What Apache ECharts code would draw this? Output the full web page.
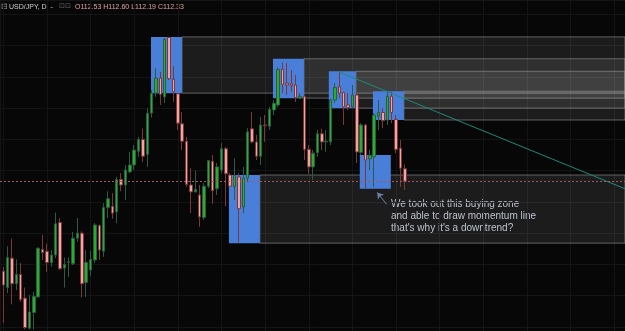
<!DOCTYPE html>
<html>
<head>
<meta charset="utf-8">
<style>
  html, body { margin: 0; padding: 0; background: #070707; }
  #chart { width: 625px; height: 331px; }
</style>
<script src="https://cdn.jsdelivr.net/npm/echarts@6/dist/echarts.min.js"></script>
</head>
<body>
<div id="chart"></div>
<script>
// daily USD/JPY candles
const opens = [110.89,110.63,111.10,110.69,110.84,110.46,109.98,110.23,110.48,111.24,
  111.21,111.03,111.15,111.67,110.94,111.03,111.01,111.42,111.50,110.71,
  110.91,111.07,111.62,111.21,111.91,111.93,111.84,112.36,112.27,112.48,
  112.59,112.81,113.00,112.76,113.42,113.74,113.98,113.68,114.63,113.96,
  113.73,113.25,112.97,112.27,112.16,112.11,111.75,112.25,112.65,112.21,
  112.51,112.85,112.43,112.24,112.40,111.92,112.38,113.17,112.96,112.73,
  113.23,113.21,113.47,113.55,114.12,113.90,113.89,113.87,113.66,113.69,
  112.84,112.56,112.79,113.09,112.96,112.96,113.63,113.84,113.75,113.55,
  113.52,113.71,112.79,113.23,112.69,112.72,113.37,113.43,113.31,113.69,
  113.32,112.86,112.53];
const highs = [110.96,111.29,111.41,111.08,111.02,110.63,110.51,110.56,111.27,111.47,
  111.33,111.23,111.83,111.74,111.11,111.11,111.52,111.74,111.53,111.23,
  111.22,111.66,111.64,111.98,112.17,112.14,112.40,112.46,112.59,112.80,
  112.91,113.04,113.17,113.50,113.79,114.14,114.08,114.62,114.64,114.17,
  113.74,113.44,113.04,112.54,112.50,112.27,112.30,112.67,112.75,112.62,
  112.94,112.88,112.46,112.70,112.46,112.56,113.18,113.44,113.07,113.36,
  113.39,113.52,113.63,114.15,114.23,114.22,114.11,114.03,113.74,113.70,
  112.91,112.83,113.15,113.17,113.15,113.65,113.90,114.08,113.76,113.74,
  113.87,113.76,113.26,113.25,112.83,113.42,113.63,113.50,113.76,113.76,
  113.39,112.99,112.60];
const lows = [110.06,110.54,110.36,110.59,110.40,109.96,109.96,109.96,110.47,111.07,
  110.88,110.96,111.10,110.91,110.63,110.80,110.99,111.36,110.47,110.48,
  110.81,111.02,111.07,111.12,111.74,111.73,111.66,112.17,112.03,112.46,
  112.51,112.72,112.64,112.56,113.35,113.68,113.55,113.58,113.95,113.60,
  113.15,112.83,112.24,111.82,112.15,111.60,111.71,112.22,111.97,112.11,
  112.46,111.93,112.24,112.03,111.35,111.82,112.32,112.94,112.67,112.59,
  112.96,113.15,113.39,113.52,113.74,113.71,113.76,113.60,113.65,112.67,
  112.45,112.35,112.72,112.83,112.80,112.91,113.58,113.66,113.23,113.47,
  113.50,112.62,112.75,112.22,112.51,112.24,113.15,113.18,113.23,113.26,
  112.78,112.24,112.19];
const closes = [110.67,111.11,110.69,110.84,110.44,109.99,110.24,110.49,111.26,111.19,
  111.03,111.15,111.65,110.93,111.00,111.04,111.42,111.50,110.69,111.03,
  111.08,111.63,111.23,111.91,112.05,111.82,112.36,112.27,112.51,112.59,
  112.83,113.00,112.73,113.42,113.74,113.98,113.72,114.60,113.97,113.76,
  113.26,112.97,112.28,112.16,112.20,111.76,112.25,112.66,112.18,112.56,
  112.85,112.45,112.25,112.42,111.89,112.38,113.12,112.96,112.73,113.23,
  113.22,113.48,113.58,114.12,113.88,113.87,113.86,113.67,113.69,112.84,
  112.56,112.78,113.09,112.96,112.97,113.63,113.83,113.74,113.52,113.51,
  113.71,112.80,113.23,112.67,112.74,113.39,113.43,113.30,113.69,113.43,
  112.84,112.54,112.33];

// drawn zones: [start bar, end bar, top price, bottom price]
const zoneBoxes = [
  [33.85, 40.95, 114.64, 113.74],
  [61.8, 68.9, 114.29, 113.66],
  [74.6, 80.8, 114.09, 113.50],
  [84.7, 91.8, 113.77, 113.31],
  [51.7, 58.8, 112.43, 111.34]
];
const extraBox = [81.7, 88.8, 112.75, 112.21];
const trendLine = [[76.9, 114.08], [142.47, 112.21]];
const arrowLine = [[87.86, 111.96], [85.7, 112.15]];
const lastPrice = 112.33;
const lastBar = 'O112.53 H112.60 L112.19 C112.33';

const xMin = -0.752, xMax = 142.47;
const yMin = 109.934, yMax = 115.23;

const rows = opens.map((o, i) => [i, o, closes[i], lows[i], highs[i]]);

const blue = '#4a7fd9';
const areaData = [];
zoneBoxes.forEach(b => {
  areaData.push([
    { xAxis: b[1], yAxis: b[2], itemStyle: { color: 'rgba(255,255,255,0.085)', borderColor: 'rgba(150,150,150,0.6)', borderWidth: 1 } },
    { xAxis: xMax + 2, yAxis: b[3] }
  ]);
});
zoneBoxes.concat([extraBox]).forEach(b => {
  areaData.push([
    { xAxis: b[0], yAxis: b[2], itemStyle: { color: blue, borderWidth: 0 } },
    { xAxis: b[1], yAxis: b[3] }
  ]);
});

const chart = echarts.init(document.getElementById('chart'), null, { renderer: 'canvas' });

const txt = (x, y, s, color, size) => ({
  type: 'text', left: x, top: y, silent: true,
  style: { text: s, fill: color, font: size + 'px "Liberation Sans", Arial, sans-serif' }
});

chart.setOption({
  animation: false,
  backgroundColor: '#070707',
  grid: { left: 0, right: 0, top: 0, bottom: 0 },
  xAxis: {
    type: 'value', min: xMin, max: xMax,
    axisLine: { show: false }, axisTick: { show: false }, axisLabel: { show: false },
    splitNumber: 18,
    splitLine: { show: true, lineStyle: { color: '#141414', width: 1 } }
  },
  yAxis: {
    type: 'value', min: yMin, max: yMax, scale: true,
    axisLine: { show: false }, axisTick: { show: false }, axisLabel: { show: false },
    splitNumber: 12,
    splitLine: { show: true, lineStyle: { color: '#141414', width: 1 } }
  },
  series: [
    {
      type: 'candlestick',
      data: rows,
      dimensions: ['bar', 'open', 'close', 'lowest', 'highest'],
      encode: { x: 0, y: [1, 2, 3, 4] },
      barWidth: 3,
      itemStyle: {
        color: '#25b025', color0: '#f4a3a3',
        borderColor: '#2c5a44', borderColor0: '#7a3838', borderWidth: 1
      },
      markArea: { silent: true, data: areaData },
      markLine: {
        silent: true, symbol: 'none', label: { show: false },
        data: [
          [{ coord: trendLine[0], lineStyle: { color: '#1c8a78', width: 1, type: 'solid' } }, { coord: trendLine[1] }],
          { yAxis: lastPrice, lineStyle: { color: '#a45a5a', width: 1, type: [2, 2] } }
        ]
      }
    },
    {
      type: 'scatter',
      data: [],
      markLine: {
        silent: true, symbol: ['none', 'arrow'], symbolSize: 6, label: { show: false },
        lineStyle: { color: '#6d7fa6', width: 1, type: 'solid' },
        data: [[{ coord: arrowLine[0] }, { coord: arrowLine[1] }]]
      }
    }
  ],
  graphic: [
    txt(1, 3, '⊟', '#9a9a9a', 8),
    txt(9, 4, 'USD/JPY, D, -', '#d0d0d0', 7),
    txt(59, 3, '⊡⊡', '#666666', 7),
    txt(75, 4, lastBar, '#e3a3a3', 7),
    {
      type: 'text', left: 391, top: 198, silent: true,
      style: {
        text: 'We took out this buying zone\nand able to draw momentum line\nthat\'s why it\'s a downtrend?',
        fill: '#b8bfcc', font: '10px "Liberation Sans", Arial, sans-serif', lineHeight: 12
      }
    }
  ]
});
</script>
</body>
</html>
